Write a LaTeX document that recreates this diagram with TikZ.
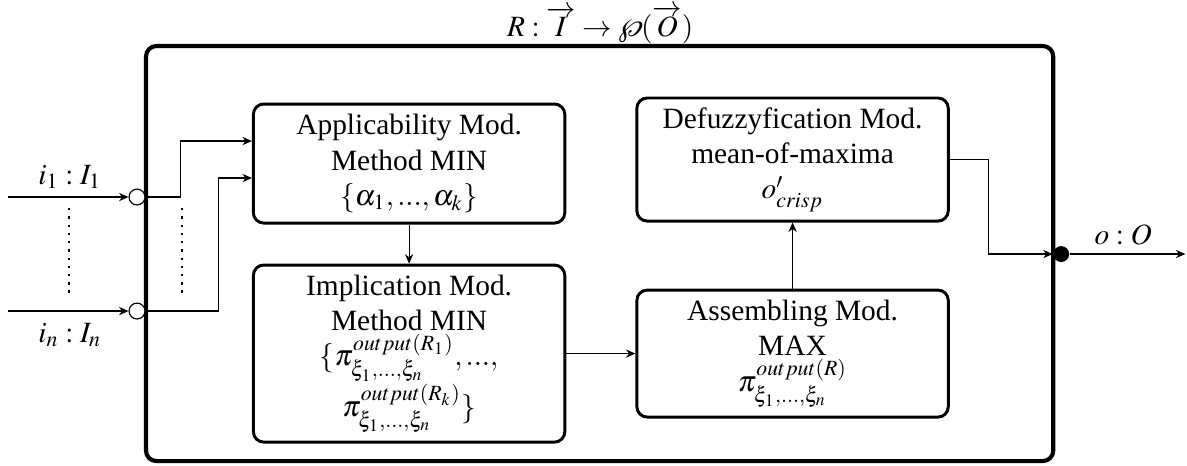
\documentclass[tikz,border=0pt]{standalone}
\usepackage{amsmath, amsfonts}
\usepackage{mathptmx}
\usepackage{fontspec}
\setmainfont{Liberation Serif}
\usetikzlibrary{arrows.meta, positioning}
\usetikzlibrary{calc}

\begin{document}
\begin{tikzpicture}[
		>={Stealth[length=3.2pt, width=2.8pt]},
		module/.style={draw, rounded corners=3.5pt, line width=1pt, align=center, inner sep=2pt, minimum width=3.72cm},
		inport/.style={circle, draw, thin, fill=white, inner sep=0pt, minimum size=0.19cm},
		outport/.style={circle, fill, inner sep=0pt, minimum size=0.19cm}]
		\useasboundingbox (0cm, 0cm) rectangle (14.18cm, 5.556cm);

		% relation box and its title
		\draw (7.163cm, 2.527cm) node[draw, rounded corners=3.5pt, line width=1.4pt, minimum width=10.837cm, minimum height=4.958cm] (rel) {}
		(7.17cm, 5.26cm) node (title) {$R: \overrightarrow{I} \rightarrow \wp(\overrightarrow{O})$};

		% modules
		\draw (4.887cm, 3.602cm) node[module, minimum height=1.422cm] (appl) {Applicability Mod.\\ Method MIN\\ $\{\alpha_1, ..., \alpha_k\}$}
		(4.887cm, 1.332cm) node[module, minimum height=2.115cm] (impl) {Implication Mod.\\ Method MIN\\ $\{\pi^{output(R_1)}_{\xi_1,...,\xi_n},...,$\\ $\pi^{output(R_k)}_{\xi_1,...,\xi_n}\}$}
		(9.468cm, 3.650cm) node[module, minimum height=1.470cm] (defuzz) {Defuzzyfication Mod.\\ mean-of-maxima\\ $o'_{crisp}$}
		(9.468cm, 1.332cm) node[module, minimum height=1.517cm] (assem) {Assembling Mod.\\ MAX\\ $\pi^{output(R)}_{\xi_1,...,\xi_n}$};

		% ports
		\draw (1.637cm, 3.202cm) node[inport] (c1) {}
		(1.637cm, 1.840cm) node[inport] (cn) {}
		(12.677cm, 2.521cm) node[outport] (out) {};
		\coordinate (in1) at (0.096cm, 3.202cm);
		\coordinate (inn) at (0.096cm, 1.840cm);
		\coordinate (oend) at (14.16cm, 2.521cm);

		% port labels
		\draw (0.836cm, 3.441cm) node (l1) {$i_1 : I_1$}
		(0.836cm, 1.553cm) node (ln) {$i_n : I_n$}
		(13.417cm, 2.748cm) node (lo) {$o : O$};

		% dots between the inputs
		\coordinate (d1a) at (0.824cm, 3.07cm);
		\coordinate (d1b) at (0.824cm, 1.995cm);
		\coordinate (d2a) at (2.174cm, 3.07cm);
		\coordinate (d2b) at (2.174cm, 1.995cm);
		\draw[dotted, line width=0.8pt] (d1a) -- (d1b);
		\draw[dotted, line width=0.8pt] (d2a) -- (d2b);

		\draw[->] (in1) -- (c1);
		\draw[->] (inn) -- (cn);
		\draw[->] (c1.east) -| ($(appl.west)+(-0.849cm, 0.269cm)$) -- ($(appl.west)+(0, 0.269cm)$);
		\draw[->] (cn.east) -| ($(appl.west)+(-0.395cm, -0.173cm)$) -- ($(appl.west)+(0, -0.173cm)$);
		\draw[->] (appl) -- (impl);
		\draw[->] (impl) -- (assem);
		\draw[->] (assem) -- (defuzz);
		\draw[->] (defuzz.east) -- ++(0.466cm, 0) |- (out.west);
		\draw[->] (out) -- (oend);
	\end{tikzpicture}
\end{document}
